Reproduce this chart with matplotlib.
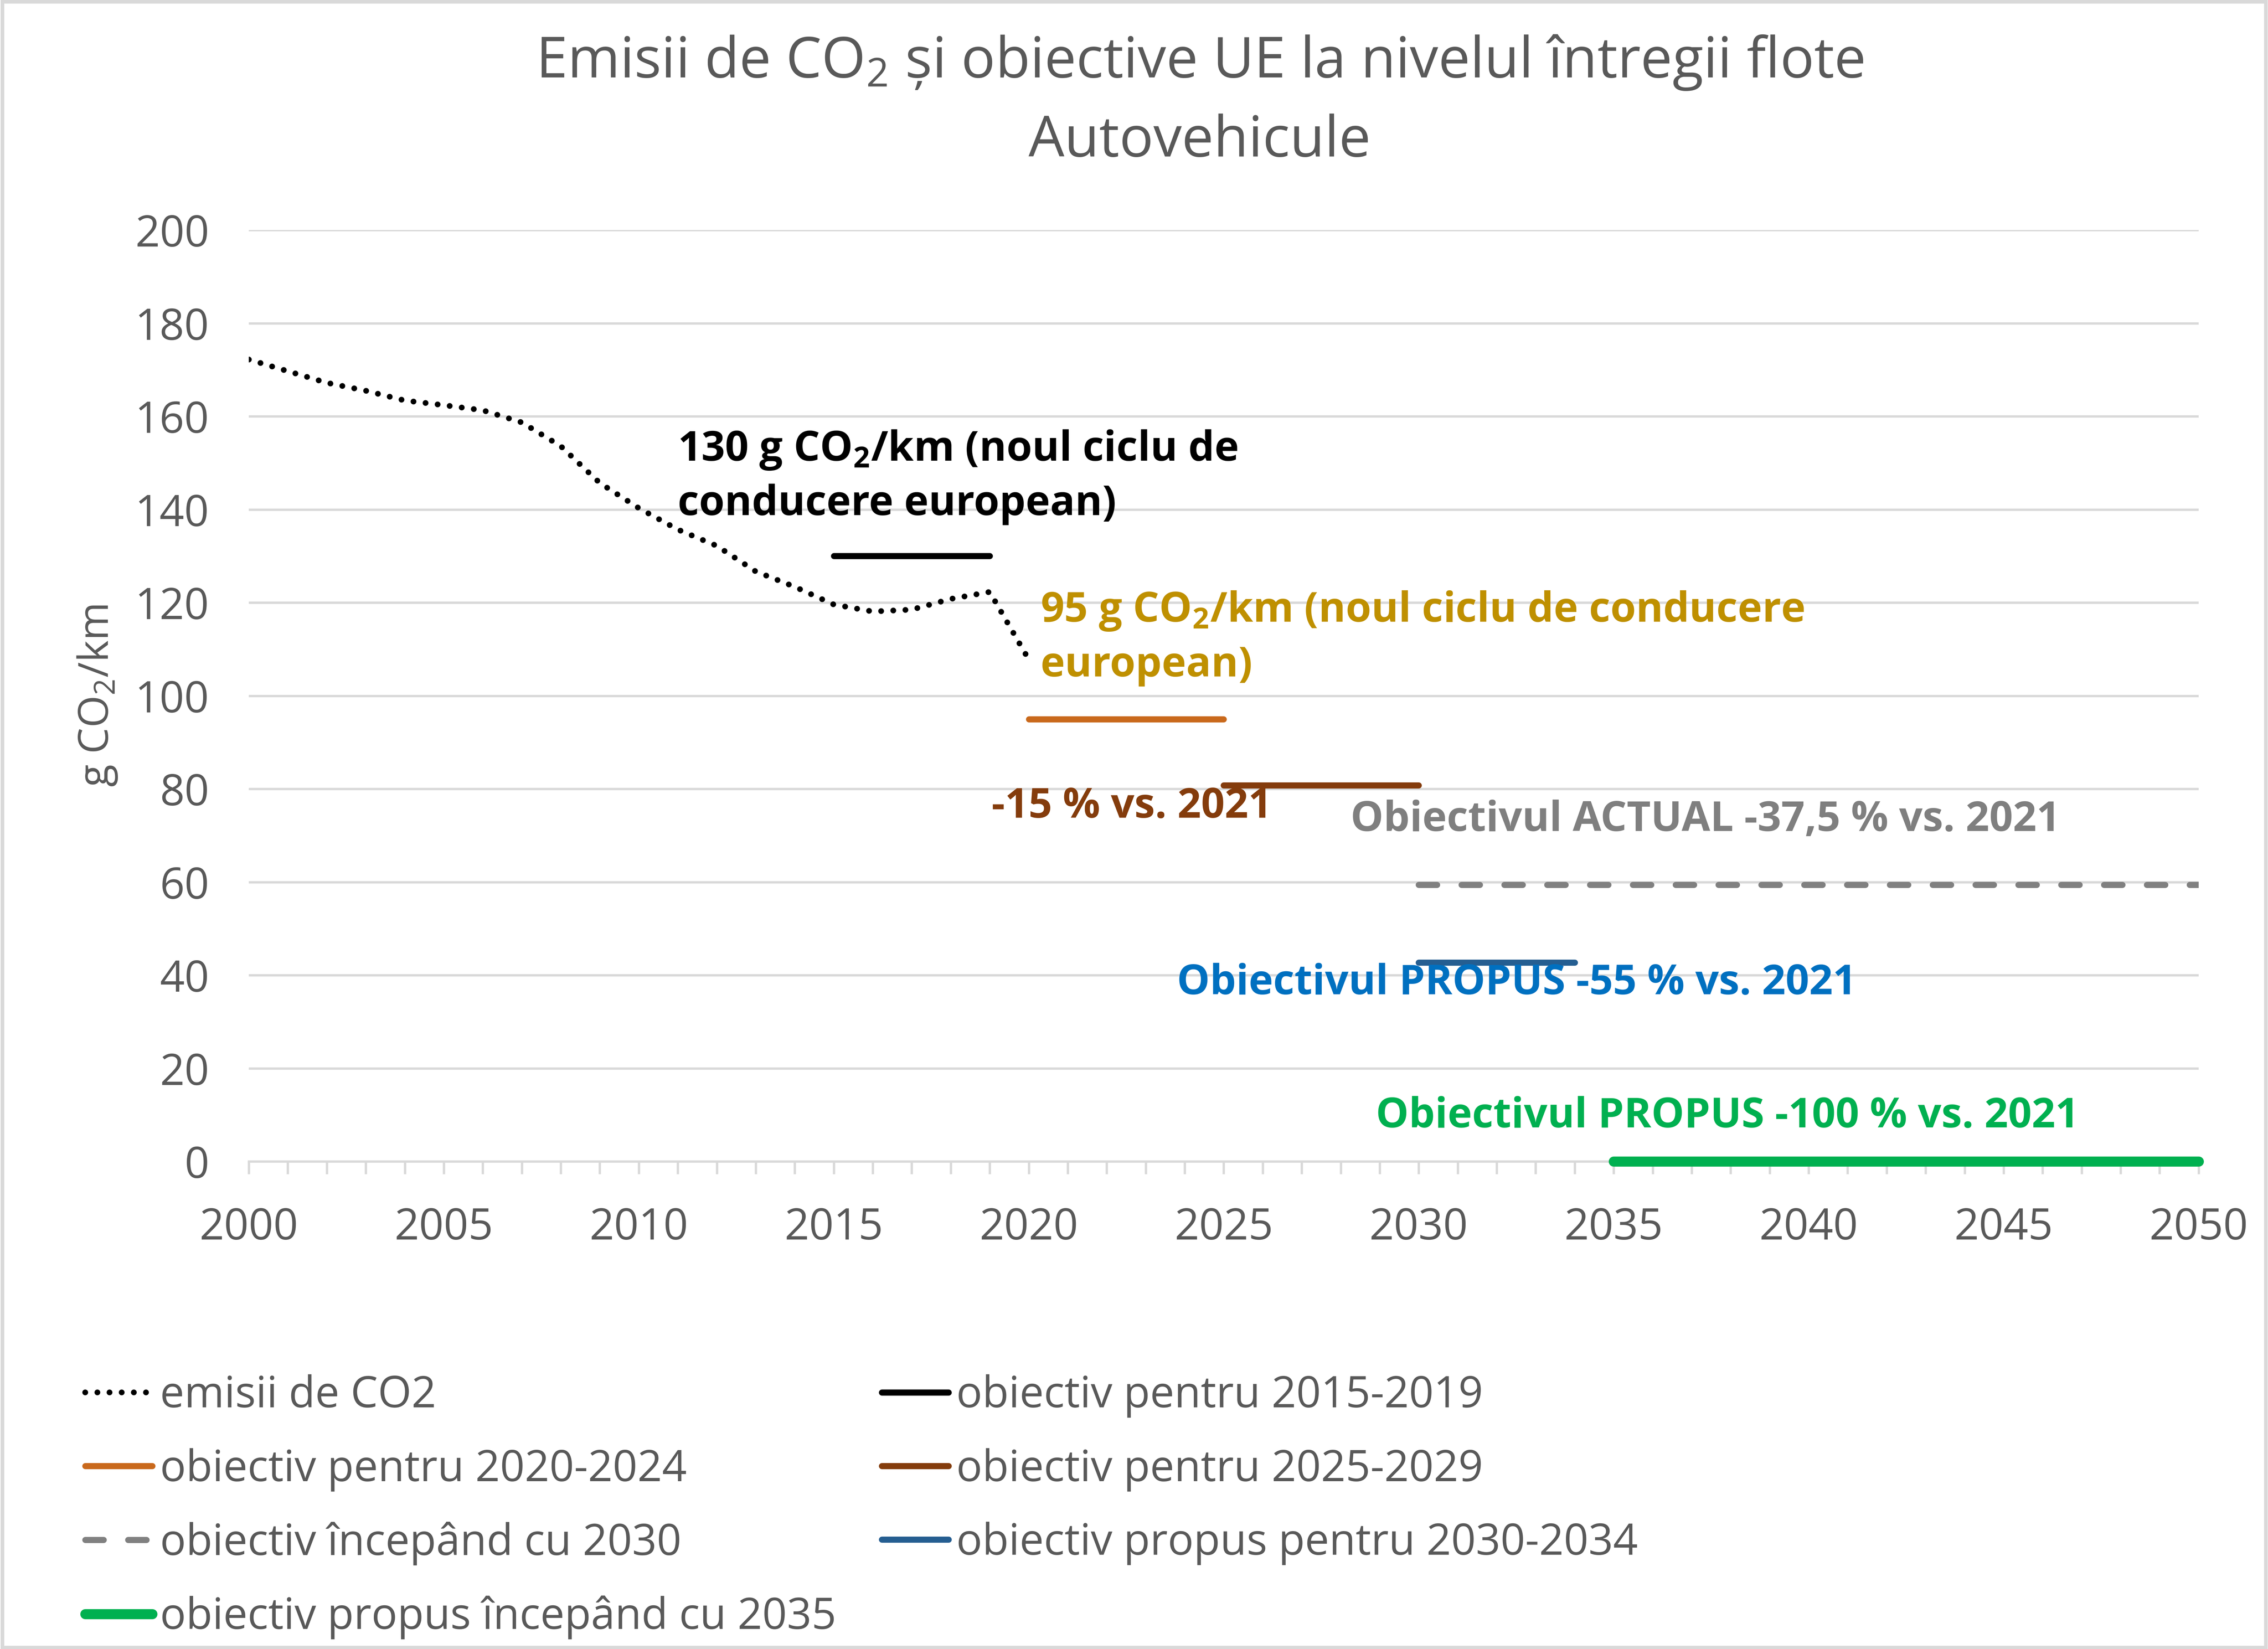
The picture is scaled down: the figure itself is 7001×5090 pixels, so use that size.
import matplotlib
matplotlib.use("Agg")
import matplotlib.pyplot as plt
from matplotlib.patches import Rectangle

plt.rcParams['font.family'] = ['Open Sans', 'DejaVu Sans']
plt.rcParams['mathtext.fontset'] = 'custom'
plt.rcParams['mathtext.rm'] = 'Open Sans'
plt.rcParams['mathtext.bf'] = 'Open Sans:bold'

# date din grafic
years = [2000, 2001, 2002, 2003, 2004, 2005, 2006, 2007, 2008, 2009, 2010,
         2011, 2012, 2013, 2014, 2015, 2016, 2017, 2018, 2019, 2020]
emisii = [172.2, 169.7, 167.2, 165.5, 163.4, 162.4, 161.3, 158.7, 153.6, 145.7, 140.3,
          135.7, 132.2, 126.7, 123.4, 119.6, 118.1, 118.5, 120.8, 122.3, 107.8]

ani_2015 = [2015, 2019]
tinta_2015 = [130, 130]
ani_2020 = [2020, 2025]
tinta_2020 = [95, 95]
ani_2025 = [2025, 2030]
tinta_2025 = [80.75, 80.75]
ani_2030 = [2030, 2050]
tinta_2030 = [59.4, 59.4]
ani_prop_2030 = [2030, 2034]
tinta_prop_2030 = [42.75, 42.75]
ani_2035 = [2035, 2050]
tinta_2035 = [0, 0]

labels = ["emisii de CO2", "obiectiv pentru 2015-2019", "obiectiv pentru 2020-2024",
          "obiectiv pentru 2025-2029", "obiectiv începând cu 2030",
          "obiectiv propus pentru 2030-2034", "obiectiv propus începând cu 2035"]

fig = plt.figure(figsize=(7001 / 400, 5090 / 400), dpi=400)
ax = fig.add_axes([0.1097, 0.2956, 0.8597, 0.5649])

h = []
h += ax.plot(years, emisii, color="black", lw=3.2, linestyle=(0, (0.01, 2.1)),
             dash_capstyle="round", label=labels[0])
h += ax.plot(ani_2015, tinta_2015, color="black", lw=3.4, solid_capstyle="round", label=labels[1])
h += ax.plot(ani_2020, tinta_2020, color="#C9691C", lw=3.4, solid_capstyle="round", label=labels[2])
h += ax.plot(ani_2025, tinta_2025, color="#843C0C", lw=3.4, solid_capstyle="round", label=labels[3])
h += ax.plot(ani_2030, tinta_2030, color="#808080", lw=3.4, linestyle=(0, (3.0, 4.0)),
             dash_capstyle="round", label=labels[4])
h += ax.plot(ani_prop_2030, tinta_prop_2030, color="#255E91", lw=3.4, solid_capstyle="round", label=labels[5])
h += ax.plot(ani_2035, tinta_2035, color="#00B050", lw=5.6, solid_capstyle="round",
             clip_on=False, zorder=4, label=labels[6])

ax.set_xlim(2000, 2050)
ax.set_ylim(0, 200)
ax.set_xticks(range(2000, 2051, 5))
ax.set_xticks(range(2000, 2051, 1), minor=True)
ax.set_yticks(range(0, 201, 20))
ax.grid(axis="y", color="#D9D9D9", lw=1.3)
ax.set_axisbelow(True)
for s in ["top", "right", "left"]:
    ax.spines[s].set_visible(False)
ax.spines["bottom"].set_color("#D9D9D9")
ax.spines["bottom"].set_linewidth(1.3)
ax.tick_params(axis="x", which="both", direction="out", length=7, width=1.3,
               color="#D9D9D9", labelsize=24, labelcolor="#595959", pad=18)
ax.tick_params(axis="y", length=0, labelsize=24, labelcolor="#595959", pad=22)
ax.set_ylabel("g CO$_2$/km", fontsize=23, color="#595959", labelpad=9)

# etichete text
ax.text(2011, 147, "130 g CO$_\\mathbf{2}$/km (noul ciclu de\nconducere european)",
        fontsize=23, fontweight="bold", color="black", va="center", ha="left", linespacing=1.4)
ax.text(2020.3, 112.4, "95 g CO$_\\mathbf{2}$/km (noul ciclu de conducere\neuropean)",
        fontsize=23, fontweight="bold", color="#BF9000", va="center", ha="left", linespacing=1.4)
ax.text(2019.05, 76.1, "-15 % vs. 2021", fontsize=23, fontweight="bold",
        color="#843C0C", va="center", ha="left")
ax.text(2028.25, 73.3, "Obiectivul ACTUAL -37,5 % vs. 2021", fontsize=23, fontweight="bold",
        color="#7F7F7F", va="center", ha="left")
ax.text(2023.8, 38.2, "Obiectivul PROPUS -55 % vs. 2021", fontsize=23, fontweight="bold",
        color="#0070C0", va="center", ha="left")
ax.text(2028.9, 9.6, "Obiectivul PROPUS -100 % vs. 2021", fontsize=23, fontweight="bold",
        color="#00B050", va="center", ha="left")

fig.text(0.529, 0.962, "Emisii de CO$_2$ și obiective UE la nivelul întregii flote",
         fontsize=31.5, color="#595959", ha="center", va="center")
fig.text(0.529, 0.914, "Autovehicule", fontsize=31.5, color="#595959", ha="center", va="center")

order = [0, 2, 4, 6, 1, 3, 5]
leg = fig.legend([h[i] for i in order], [labels[i] for i in order], ncol=2,
                 loc="upper left", bbox_to_anchor=(0.03, 0.177), frameon=False,
                 fontsize=24, handlelength=1.55, handletextpad=0.18,
                 labelspacing=0.7, columnspacing=1.05, borderaxespad=0)
for t in leg.get_texts():
    t.set_color("#595959")

fig.patches.append(Rectangle((0.001, 0.001), 0.998, 0.998, transform=fig.transFigure,
                             fill=False, edgecolor="#D9D9D9", lw=2))

fig.savefig("out.png", dpi=400)
